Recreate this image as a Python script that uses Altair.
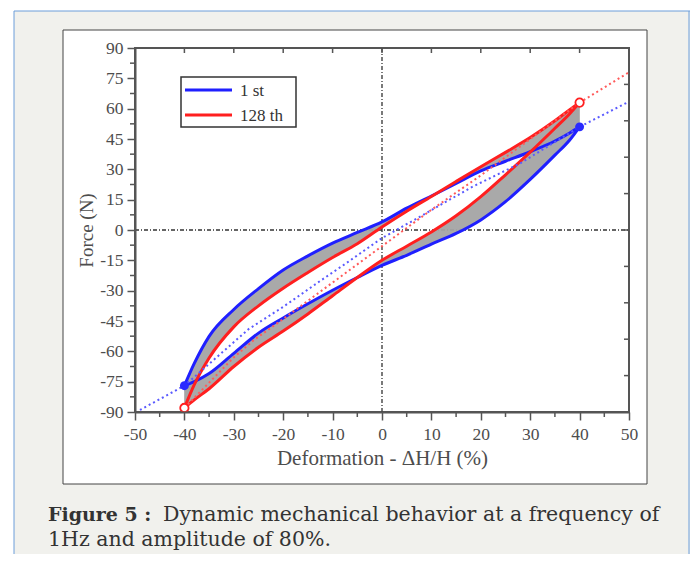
import altair as alt
import pandas as pd

# ---------------- data ----------------
x_grid = [-40, -38, -35, -30, -25, -20, -15, -10, -5, 0, 5, 10, 15, 20, 25, 30, 35, 38, 40]
blue_upper = [-77, -66, -52.6, -39.3, -29, -19.8, -12.8, -6.5, -1.2, 4, 10.8, 16.8, 23, 29.2, 34, 38.7, 44, 48, 51]
blue_lower = [-77, -75, -71, -61, -51, -43.5, -36.5, -29.8, -23.5, -17.5, -12.5, -7, -1.7, 5, 14, 25, 37, 44.5, 51]
red_upper = [-88, -76.5, -63.3, -47.9, -37.5, -28.8, -21, -13.6, -6.8, 1.5, 9.3, 16.6, 24, 31.3, 38.4, 45.7, 54, 59.5, 63]
red_lower = [-88, -84, -78.5, -67.5, -58, -50, -41.5, -32.5, -23.5, -15, -8, -1, 7, 16.5, 27.3, 38.5, 50.3, 57.5, 63]

blue_fit_x = [-49, -40, -27, -20, -13, -7, 0, 8, 18, 28, 40, 50]
blue_fit_y = [-89, -77, -49, -38, -26, -16, -4, 7, 21, 33, 51, 63.5]
red_fit_x = [-40, -30, -26, -20, -10, 0, 10, 20, 30, 40, 50]
red_fit_y = [-88, -63, -54.5, -44, -26, -8, 10, 27, 45, 63, 78]

series = ["1 st", "128 th"]
colors = ["#1f1fff", "#ff1f1f"]
tip_x = [-40, 40]
blue_tips = [-77, 51]
red_tips = [-88, 63]

x_ticks = [-50, -40, -30, -20, -10, 0, 10, 20, 30, 40, 50]
x_minor = [-45, -35, -25, -15, -5, 5, 15, 25, 35, 45]
y_ticks = [-90, -75, -60, -45, -30, -15, 0, 15, 30, 45, 60, 75, 90]
y_minor = [-82.5, -67.5, -52.5, -37.5, -22.5, -7.5, 7.5, 22.5, 37.5, 52.5, 67.5, 82.5]
top_ticks = [-40, -30, -20, -10, 0, 10, 20, 30, 40]
right_ticks = [-72, -54, -36, -18, 0, 18, 36, 54, 72]

caption_bold = "Figure 5 :"
caption_1 = "Dynamic mechanical behavior at a frequency of"
caption_2 = "1Hz and amplitude of 80%."

W, H = 494, 364
SERIF = "Liberation Serif"
AX = "#555555"
LBL = "#4d4d4d"

neg = "datum.value < 0 ? '-' + abs(datum.value) : '' + datum.value"

common_axis = dict(labelExpr=neg, zindex=2, grid=False, labelFlush=False,
                   labelFont=SERIF, labelFontSize=17.5, labelColor=LBL,
                   titleFont=SERIF, titleColor=LBL,
                   titleFontWeight="normal", domainColor=AX, domainWidth=2,
                   tickColor=AX, tickWidth=1.5, tickSize=8)


def X(field="x"):
    return alt.X(f"{field}:Q", scale=alt.Scale(domain=[-50, 50], nice=False, zero=False),
                 title="Deformation - ΔH/H  (%)",
                 axis=alt.Axis(values=x_ticks, labelPadding=5, titlePadding=5,
                               titleFontSize=21, **common_axis))


def Y(field="y"):
    return alt.Y(f"{field}:Q", scale=alt.Scale(domain=[-90, 90], nice=False, zero=False),
                 title="Force (N)",
                 axis=alt.Axis(values=y_ticks, labelPadding=4, titlePadding=3,
                               titleFontSize=19, **common_axis))


def branches_df(name, up, low):
    rows = []
    for xv, yv in zip(x_grid, up):
        rows.append({"x": xv, "y": yv, "cycle": name, "branch": name + " up"})
    for xv, yv in zip(x_grid, low):
        rows.append({"x": xv, "y": yv, "cycle": name, "branch": name + " low"})
    return pd.DataFrame(rows)


one = pd.DataFrame({"a": [0]})

bg = alt.Chart(one).mark_rect(fill="#f1f1ed").encode(
    x=alt.value(-121), x2=alt.value(555), y=alt.value(-37), y2=alt.value(506))
border_l = alt.Chart(one).mark_rule(color="#6d9eda", strokeWidth=1).encode(
    x=alt.value(-121), y=alt.value(-37), y2=alt.value(506))
border_t = alt.Chart(one).mark_rule(color="#6d9eda", strokeWidth=1).encode(
    x=alt.value(-121), x2=alt.value(555), y=alt.value(-37))
border_r = alt.Chart(one).mark_rule(color="#6d9eda", strokeWidth=1).encode(
    x=alt.value(554), y=alt.value(-37), y2=alt.value(506))
figbox = alt.Chart(one).mark_rect(fill="white", stroke="#444", strokeWidth=1).encode(
    x=alt.value(-72), x2=alt.value(512), y=alt.value(-18), y2=alt.value(436))
frame = alt.Chart(one).mark_rect(fillOpacity=0, stroke=AX, strokeWidth=2).encode(
    x=alt.value(0), x2=alt.value(W), y=alt.value(0), y2=alt.value(H))

zero_h = alt.Chart(pd.DataFrame({"y": [0]})).mark_rule(
    color="#333", strokeWidth=1.3, strokeDash=[4, 2, 1, 2]).encode(
    y=Y(), x=alt.value(0), x2=alt.value(W))
zero_v = alt.Chart(pd.DataFrame({"x": [0]})).mark_rule(
    color="#333", strokeWidth=1.3, strokeDash=[4, 2, 1, 2]).encode(
    x=X(), y=alt.value(0), y2=alt.value(H))

band_up = pd.DataFrame({"x": x_grid, "y": blue_upper, "y2": red_upper})
band_low = pd.DataFrame({"x": x_grid, "y": blue_lower, "y2": red_lower})
gray_up = alt.Chart(band_up).mark_area(color="#a4a4a4", opacity=0.95, interpolate="monotone").encode(
    x=X(), y=Y(), y2="y2:Q")
gray_low = alt.Chart(band_low).mark_area(color="#a4a4a4", opacity=0.95, interpolate="monotone").encode(
    x=X(), y=Y(), y2="y2:Q")

color_enc = alt.Color("cycle:N", scale=alt.Scale(domain=series, range=colors), legend=None)

blue_loop = alt.Chart(branches_df(series[0], blue_upper, blue_lower)).mark_line(
    strokeWidth=3, strokeJoin="round", interpolate="monotone").encode(
    x=X(), y=Y(), color=color_enc, detail="branch:N")
red_loop = alt.Chart(branches_df(series[1], red_upper, red_lower)).mark_line(
    strokeWidth=3, strokeJoin="round", interpolate="monotone").encode(
    x=X(), y=Y(), color=color_enc, detail="branch:N")

blue_fit = alt.Chart(pd.DataFrame({"x": blue_fit_x, "y": blue_fit_y})).mark_line(
    color="#5a5aff", strokeWidth=2, strokeDash=[2, 3]).encode(x=X(), y=Y())
red_fit = alt.Chart(pd.DataFrame({"x": red_fit_x, "y": red_fit_y})).mark_line(
    color="#ff5a5a", strokeWidth=2, strokeDash=[2, 3]).encode(x=X(), y=Y())

blue_pts = alt.Chart(pd.DataFrame({"x": tip_x, "y": blue_tips})).mark_point(
    filled=True, color="#2a2aff", size=80, opacity=1).encode(x=X(), y=Y())
red_pts = alt.Chart(pd.DataFrame({"x": tip_x, "y": red_tips})).mark_point(
    shape="circle", fill="white", stroke="#ff1f1f", strokeWidth=1.8, size=70, opacity=1).encode(x=X(), y=Y())

tick_top = alt.Chart(pd.DataFrame({"x": top_ticks})).mark_rule(color=AX, strokeWidth=1.5).encode(
    x=X(), y=alt.value(0), y2=alt.value(5))
tick_right = alt.Chart(pd.DataFrame({"y": right_ticks})).mark_rule(color=AX, strokeWidth=1.5).encode(
    y=Y(), x=alt.value(W - 5), x2=alt.value(W))
tick_xminor = alt.Chart(pd.DataFrame({"x": x_minor})).mark_rule(color=AX, strokeWidth=1.5).encode(
    x=X(), y=alt.value(H), y2=alt.value(H + 5))
tick_yminor = alt.Chart(pd.DataFrame({"y": y_minor})).mark_rule(color=AX, strokeWidth=1.5).encode(
    y=Y(), x=alt.value(-5), x2=alt.value(0))

# legend box (drawn by hand to match the compact original)
leg_box = alt.Chart(one).mark_rect(fill="white", stroke="#333", strokeWidth=1.5).encode(
    x=alt.value(46), x2=alt.value(161), y=alt.value(29), y2=alt.value(79))
leg_rows = pd.DataFrame({"cycle": series, "ly": [42, 67]})
leg_lines = alt.Chart(leg_rows).mark_rule(strokeWidth=3).encode(
    x=alt.value(50), x2=alt.value(97), y=alt.Y("ly:Q", scale=None), color=color_enc)
leg_text = alt.Chart(leg_rows).mark_text(
    font=SERIF, fontSize=17, align="left", baseline="middle", color="#333", dy=1).encode(
    x=alt.value(105), y=alt.Y("ly:Q", scale=None), text="cycle:N")

cap_b = alt.Chart(pd.DataFrame({"t": [caption_bold]})).mark_text(
    font="DejaVu Serif", fontSize=19, fontWeight="bold", align="left", baseline="alphabetic",
    color="#333").encode(text="t:N", x=alt.value(-87), y=alt.value(473))
cap_1 = alt.Chart(pd.DataFrame({"t": [caption_1]})).mark_text(
    font="DejaVu Serif", fontSize=20.5, align="left", baseline="alphabetic",
    color="#333").encode(text="t:N", x=alt.value(28), y=alt.value(473))
cap_2 = alt.Chart(pd.DataFrame({"t": [caption_2]})).mark_text(
    font="DejaVu Serif", fontSize=20.5, align="left", baseline="alphabetic",
    color="#333").encode(text="t:N", x=alt.value(-87), y=alt.value(498))

chart = alt.layer(
    bg, border_l, border_t, border_r, figbox, frame,
    zero_h, zero_v, gray_up, gray_low, blue_loop, red_loop,
    blue_fit, red_fit, blue_pts, red_pts,
    tick_top, tick_right, tick_xminor, tick_yminor,
    leg_box, leg_lines, leg_text,
    cap_b, cap_1, cap_2,
).properties(
    width=W, height=H,
    autosize=alt.AutoSizeParams(type="none"),
    padding={"left": 127, "top": 40, "right": 61, "bottom": 142},
).configure(background="white").configure_view(stroke=None)

chart.save("out.html", embed_options={"renderer": "svg", "actions": False})
